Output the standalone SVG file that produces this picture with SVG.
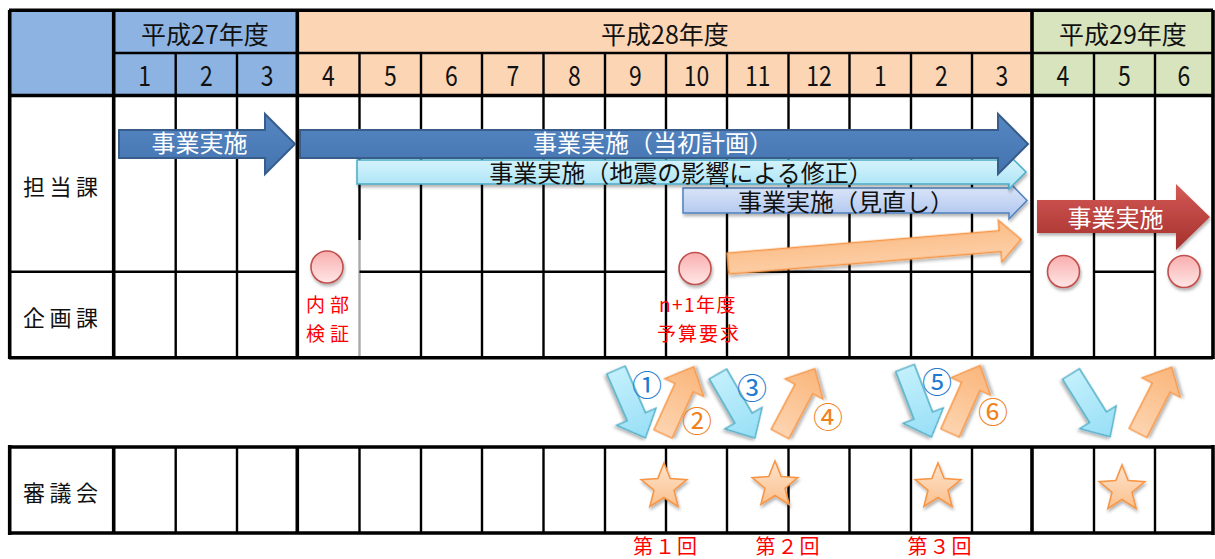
<svg xmlns="http://www.w3.org/2000/svg" width="1215" height="559" viewBox="0 0 1215 559">
<style>
text{font-family:'Noto Sans CJK JP','Noto Sans',sans-serif;}
.hd{font-size:25px;fill:#111;text-anchor:middle;}
.mo{font-size:28px;fill:#111;text-anchor:middle;}
.rl{font-size:22px;fill:#111;letter-spacing:4.5px;}
.aw{font-size:24px;fill:#fff;text-anchor:middle;}
.ab{font-size:24px;fill:#111;text-anchor:middle;}
.red{font-size:19px;fill:#ff0000;}
.nb{font-size:30px;fill:#1f7ad2;text-anchor:middle;}
.no{font-size:30px;fill:#f0821e;text-anchor:middle;}
.lab{font-size:20px;fill:#ff0000;text-anchor:middle;letter-spacing:2px;}
.thin{stroke:#000;stroke-width:2.4;fill:none;}
.thick{stroke:#000;stroke-width:3.6;fill:none;}
.circ{fill:url(#gPink);stroke:#c0504d;stroke-width:1.6;filter:url(#sh);}
.star{fill:url(#gStar);stroke:#f79646;stroke-width:1.6;filter:url(#sh);}
.dBlue{fill:url(#gDBlue);stroke:#4bacc6;stroke-width:1.3;filter:url(#sh);}
.dOr{fill:url(#gDOr);stroke:#f79646;stroke-width:1.3;filter:url(#sh);}
</style>
<defs>
<filter id="sh" x="-30%" y="-30%" width="160%" height="170%">
<feDropShadow dx="1" dy="2.5" stdDeviation="1.8" flood-color="#000" flood-opacity="0.3"/>
</filter>
<linearGradient id="gNavy" x1="0" y1="0" x2="0" y2="1"><stop offset="0" stop-color="#5687c3"/><stop offset="1" stop-color="#4474b0"/></linearGradient>
<linearGradient id="gCyan" x1="0" y1="0" x2="0" y2="1"><stop offset="0" stop-color="#dcf6fd"/><stop offset="1" stop-color="#a9e3f5"/></linearGradient>
<linearGradient id="gLB" x1="0" y1="0" x2="0" y2="1"><stop offset="0" stop-color="#e0e9f9"/><stop offset="1" stop-color="#adc4ee"/></linearGradient>
<linearGradient id="gOr" x1="0" y1="0" x2="0" y2="1"><stop offset="0" stop-color="#fbbb85"/><stop offset="1" stop-color="#fdd3ad"/></linearGradient>
<linearGradient id="gRed" x1="0" y1="0" x2="0" y2="1"><stop offset="0" stop-color="#d45a56"/><stop offset="1" stop-color="#a52f2c"/></linearGradient>
<linearGradient id="gPink" x1="0" y1="0" x2="0" y2="1"><stop offset="0" stop-color="#f9aeae"/><stop offset="1" stop-color="#ffe6e6"/></linearGradient>
<linearGradient id="gStar" x1="0" y1="0" x2="0" y2="1"><stop offset="0" stop-color="#fde3cc"/><stop offset="1" stop-color="#fbc18e"/></linearGradient>
<linearGradient id="gDBlue" x1="0" y1="0" x2="1" y2="0"><stop offset="0" stop-color="#c3f0fc"/><stop offset="1" stop-color="#98dff6"/></linearGradient>
<linearGradient id="gDOr" x1="0" y1="0" x2="1" y2="0"><stop offset="0" stop-color="#fdd4b0"/><stop offset="1" stop-color="#fab67b"/></linearGradient>
<path id="darr" d="M0,-10 L51,-10 L51,-21.5 L74,0 L51,21.5 L51,10 L0,10 Z"/>
<path id="star" d="M0,-24 L6.17,-8.49 L22.83,-7.42 L9.99,3.24 L14.11,19.42 L0,10.5 L-14.11,19.42 L-9.99,3.24 L-22.83,-7.42 L-6.17,-8.49 Z"/>
</defs>

<rect width="1215" height="559" fill="#fff"/>

<g id="header">
<rect x="9" y="10" width="105" height="85" fill="#8db3e2"/>
<rect x="114" y="10" width="183" height="85" fill="#8db3e2"/>
<rect x="297" y="10" width="735" height="85" fill="#fcd5b5"/>
<rect x="1032" y="10" width="181" height="85" fill="#d7e4bd"/>
<text class="hd" x="205" y="43.5">平成27年度</text>
<text class="hd" x="665" y="43.5">平成28年度</text>
<text class="hd" x="1123" y="43.5">平成29年度</text>
<text class="mo" transform="translate(144.7,86) scale(0.82,1)">1</text>
<text class="mo" transform="translate(206.4,86) scale(0.82,1)">2</text>
<text class="mo" transform="translate(267.2,86) scale(0.82,1)">3</text>
<text class="mo" transform="translate(328.4,86) scale(0.82,1)">4</text>
<text class="mo" transform="translate(390.3,86) scale(0.82,1)">5</text>
<text class="mo" transform="translate(451.5,86) scale(0.82,1)">6</text>
<text class="mo" transform="translate(512.8,86) scale(0.82,1)">7</text>
<text class="mo" transform="translate(574.3,86) scale(0.82,1)">8</text>
<text class="mo" transform="translate(635.5,86) scale(0.82,1)">9</text>
<text class="mo" transform="translate(696.5,86) scale(0.82,1)">10</text>
<text class="mo" transform="translate(757.8,86) scale(0.82,1)">11</text>
<text class="mo" transform="translate(819,86) scale(0.82,1)">12</text>
<text class="mo" transform="translate(880.3,86) scale(0.82,1)">1</text>
<text class="mo" transform="translate(941.5,86) scale(0.82,1)">2</text>
<text class="mo" transform="translate(1002,86) scale(0.82,1)">3</text>
<text class="mo" transform="translate(1063,86) scale(0.82,1)">4</text>
<text class="mo" transform="translate(1124.5,86) scale(0.82,1)">5</text>
<text class="mo" transform="translate(1184,86) scale(0.82,1)">6</text>
</g>

<g id="grid">
<path class="thin" d="M114,53 H1213"/>
<path class="thin" d="M175.7,53 V357 M237,53 V357 M421,53 V357 M482,53 V357 M543.5,53 V357 M605,53 V357 M666,53 V357 M727,53 V357 M788.5,53 V357 M849.5,53 V357 M911,53 V357 M972,53 V357 M1094,53 V357 M1155,53 V357"/>
<path class="thin" d="M359.5,53 V240"/>
<path d="M359.5,240 V357" stroke="#aaa" stroke-width="2.4"/>
<path class="thin" d="M9,271.7 H297.3 M359.5,271.7 H666 M727,271.7 H1032 M1094,271.7 H1155"/>
<path class="thick" d="M9,10.3 H1213 M9,95.5 H1213 M9,357.7 H1213 M9.7,10 V359 M113.7,10 V357 M297.3,10 V357 M1032,10 V357 M1213,10 V359"/>
<path class="thin" d="M175.7,447 V533 M237,447 V533 M359.5,447 V533 M421,447 V533 M482,447 V533 M543.5,447 V533 M605,447 V533 M666,447 V533 M727,447 V533 M788.5,447 V533 M849.5,447 V533 M911,447 V533 M972,447 V533 M1094,447 V533 M1155,447 V533"/>
<path class="thick" d="M9,447 H1213 M9,533 H1213 M9.7,445 V535 M113.7,447 V533 M297.3,447 V533 M1032,447 V533 M1213,445 V535"/>
</g>

<g id="row-labels">
<text class="rl" x="23" y="195.4">担当課</text>
<text class="rl" x="23" y="326">企画課</text>
<text class="rl" x="23" y="501">審議会</text>
</g>

<g id="arrow-revised-orange">
<path d="M0,-10.5 L273,-10.5 L273,-21 L294,0 L273,21 L273,10.5 L0,10.5 Z" transform="translate(728,263.5) rotate(-4.7)" fill="url(#gOr)" stroke="#f79646" stroke-width="1.5" filter="url(#sh)"/>
</g>
<g id="arrow-review">
<path d="M683,188 L1009,188 L1009,182 L1027,200.5 L1009,219 L1009,213 L683,213 Z" fill="url(#gLB)" stroke="#4f81bd" stroke-width="1.5" filter="url(#sh)"/>
<text class="ab" x="846" y="211">事業実施（見直し）</text>
</g>
<g id="arrow-quake">
<path d="M357,160 L1009,160 L1009,155 L1026,172 L1009,189 L1009,184 L357,184 Z" fill="url(#gCyan)" stroke="#4bacc6" stroke-width="1.5" filter="url(#sh)"/>
<text class="ab" x="681" y="182">事業実施（地震の影響による修正）</text>
</g>
<g id="arrow-fy27">
<path d="M119,130 L265,130 L265,114 L295,144 L265,174 L265,158 L119,158 Z" fill="url(#gNavy)" stroke="#385d8a" stroke-width="2"/>
<text class="aw" x="199.5" y="152">事業実施</text>
</g>
<g id="arrow-initial">
<path d="M300,130 L998,130 L998,114 L1028,144 L998,174 L998,158 L300,158 Z" fill="url(#gNavy)" stroke="#385d8a" stroke-width="2"/>
<text class="aw" x="653" y="152">事業実施（当初計画）</text>
</g>
<g id="arrow-fy29">
<path d="M1037,200 L1176,200 L1176,184 L1210,217 L1176,250 L1176,233 L1037,233 Z" fill="url(#gRed)" filter="url(#sh)"/>
<text class="aw" x="1115.5" y="226.5">事業実施</text>
</g>

<g id="milestones">
<circle class="circ" cx="327" cy="267" r="16"/>
<circle class="circ" cx="695" cy="268.5" r="16"/>
<circle class="circ" cx="1063.5" cy="271.5" r="16"/>
<circle class="circ" cx="1184" cy="271.5" r="16"/>
<text class="red" x="306" y="312" letter-spacing="5">内部</text>
<text class="red" x="306" y="341" letter-spacing="5">検証</text>
<text class="red" x="698" y="312" text-anchor="middle" letter-spacing="1.5">n+1年度</text>
<text class="red" x="699" y="341" text-anchor="middle" letter-spacing="2">予算要求</text>
</g>

<g id="connectors">
<use href="#darr" class="dBlue" transform="translate(616,370) rotate(66.5)"/>
<use href="#darr" class="dOr" transform="translate(663,434) rotate(-65.5)"/>
<use href="#darr" class="dBlue" transform="translate(718,374) rotate(60)"/>
<use href="#darr" class="dOr" transform="translate(780,434) rotate(-62)"/>
<use href="#darr" class="dBlue" transform="translate(905,368) rotate(69)"/>
<use href="#darr" class="dOr" transform="translate(950,433) rotate(-66)"/>
<use href="#darr" class="dBlue" transform="translate(1071,374) rotate(58)"/>
<use href="#darr" class="dOr" transform="translate(1138,433) rotate(-63)"/>
<text class="nb" x="647" y="396">①</text>
<text class="no" x="697" y="432">②</text>
<text class="nb" x="752" y="399">③</text>
<text class="no" x="828" y="428">④</text>
<text class="nb" x="937" y="393">⑤</text>
<text class="no" x="993" y="423">⑥</text>
</g>

<g id="council">
<use href="#star" class="star" transform="translate(664,487)"/>
<use href="#star" class="star" transform="translate(775,485)"/>
<use href="#star" class="star" transform="translate(938,487)"/>
<use href="#star" class="star" transform="translate(1122,489)"/>
<text class="lab" x="666" y="554">第１回</text>
<text class="lab" x="788.5" y="554">第２回</text>
<text class="lab" x="940.5" y="554">第３回</text>
</g>
</svg>
